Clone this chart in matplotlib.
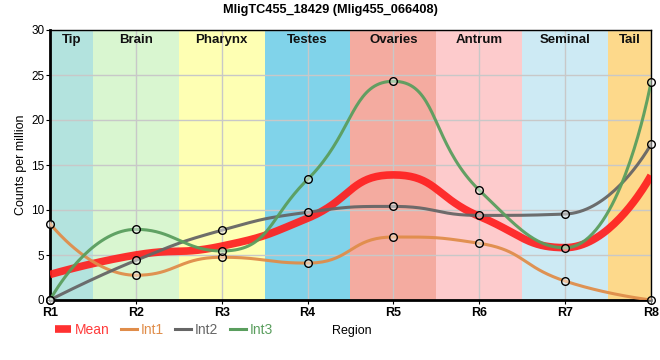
import matplotlib.pyplot as plt
import numpy as np
from matplotlib.lines import Line2D

plt.rcParams['font.family'] = ['Liberation Sans', 'DejaVu Sans']

regions = ['R1', 'R2', 'R3', 'R4', 'R5', 'R6', 'R7', 'R8']
int1 = [8.5, 2.75, 4.75, 4.1, 7.0, 6.3, 2.1, 0.0]
int2 = [0.0, 4.4, 7.75, 9.75, 10.4, 9.4, 9.55, 17.3]
int3 = [0.0, 7.85, 5.45, 13.4, 24.3, 12.2, 5.8, 24.2]
mean = list(np.mean([int1, int2, int3], axis=0))

band_names = ['Tip', 'Brain', 'Pharynx', 'Testes', 'Ovaries', 'Antrum', 'Seminal', 'Tail']
band_colors = ['#b3e3de', '#d9f6d0', '#feffb3', '#80d3ea', '#f4aba0', '#fdcbcc', '#cdeaf4', '#fdd98b']

# pixels per data unit (used so the smoothing works in screen space)
SX = 601 / 7
SY = 270 / 30


def smooth_line(yv, smooth=0.5, n=40):
    P = np.column_stack([np.arange(len(yv)) * SX, np.asarray(yv, float) * SY])
    out = [P[:1]]
    cp0 = P[0].copy()
    N = len(P)
    for i in range(1, N):
        x, y = P[i]
        px, py = P[i - 1]
        if i == N - 1:
            cp1 = P[i].copy()
            ncp = None
        else:
            nx, ny = P[i + 1]
            vx, vy = nx - px, ny - py
            lp = np.hypot(x - px, y - py)
            ln = np.hypot(nx - x, ny - y)
            r = ln / (ln + lp)
            ncx = x + vx * smooth * r
            ncy = y + vy * smooth * r
            ncx = min(max(ncx, min(nx, x)), max(nx, x))
            ncy = min(max(ncy, min(ny, y)), max(ny, y))
            vx, vy = ncx - x, ncy - y
            c1x = x - vx * lp / ln
            c1y = y - vy * lp / ln
            c1x = min(max(c1x, min(px, x)), max(px, x))
            c1y = min(max(c1y, min(py, y)), max(py, y))
            vx, vy = x - c1x, y - c1y
            ncp = np.array([x + vx * ln / lp, y + vy * ln / lp])
            cp1 = np.array([c1x, c1y])
        t = np.linspace(0, 1, n)[1:, None]
        seg = ((1 - t) ** 3 * P[i - 1] + 3 * t * (1 - t) ** 2 * cp0
               + 3 * t ** 2 * (1 - t) * cp1 + t ** 3 * P[i])
        out.append(seg)
        cp0 = ncp
    pts = np.vstack(out)
    return pts[:, 0] / SX, pts[:, 1] / SY


fig = plt.figure(figsize=(6.6, 3.6), dpi=100)
ax = fig.add_axes([50 / 660, 60 / 360, 601 / 660, 270 / 360])

for i, (name, c) in enumerate(zip(band_names, band_colors)):
    lo = max(i - 0.5, 0)
    hi = min(i + 0.5, 7)
    ax.axvspan(lo, hi, color=c, lw=0, zorder=0)
    ax.text((lo + hi) / 2, 28.85, name, ha='center', va='center', fontsize=9.5,
            fontweight='bold', color='#111111', zorder=5)

ax.grid(True, color='#c8c8c8', lw=1, zorder=1)

x = np.arange(len(regions))
series = [(int1, '#e08d4a', 'Int1'), (int2, '#666666', 'Int2'), (int3, '#5a9e5e', 'Int3')]
xm, ym = smooth_line(mean)
ax.plot(xm, ym, color='#ff1f1f', lw=5.5, alpha=0.92, zorder=3, solid_capstyle='butt')
for vals, c, lab in series:
    xs, ys = smooth_line(vals)
    ax.plot(xs, ys, color=c, lw=2.2, alpha=0.95, zorder=4)
for vals, c, lab in series:
    ax.plot(x, vals, 'o', ms=5.5, mfc=(1, 1, 1, 0.45), mec='black', mew=1, zorder=6, clip_on=False)

ax.set_xlim(0, 7)
ax.set_ylim(0, 30)
ax.set_xticks(x)
ax.set_xticklabels(regions, fontsize=9, fontweight='bold')
ax.set_yticks(range(0, 31, 5))
ax.tick_params(axis='y', labelsize=8.5, length=3, pad=1)
ax.tick_params(axis='x', length=3, pad=2)
for sp in ['left', 'bottom']:
    ax.spines[sp].set_linewidth(2)
for sp in ['top', 'right']:
    ax.spines[sp].set_linewidth(1)
ax.set_ylabel('Counts per million', fontsize=9, labelpad=3)

fig.text(330 / 660, 1 - 10 / 360, 'MligTC455_18429 (Mlig455_066408)', ha='center', va='center',
         fontsize=9.2, fontweight='bold')
fig.text(352 / 660, 1 - 331 / 360, 'Region', ha='center', va='center', fontsize=9)

handles = [Line2D([], [], color='#ff1f1f', lw=5.5, alpha=0.92, solid_capstyle='butt'),
           Line2D([], [], color='#e08d4a', lw=2.2),
           Line2D([], [], color='#666666', lw=2.2),
           Line2D([], [], color='#5a9e5e', lw=2.2)]
labels = ['Mean', 'Int1', 'Int2', 'Int3']
leg = fig.legend(handles, labels, loc='center left', bbox_to_anchor=(55 / 660, 1 - 330 / 360),
                 ncol=4, frameon=False, fontsize=10, handlelength=1.15, handletextpad=0.25,
                 columnspacing=0.85, borderaxespad=0, borderpad=0)
for t, c in zip(leg.get_texts(), ['#ff3b3b', '#e08d4a', '#666666', '#5a9e5e']):
    t.set_color(c)

fig.savefig('out.png', dpi=100)
